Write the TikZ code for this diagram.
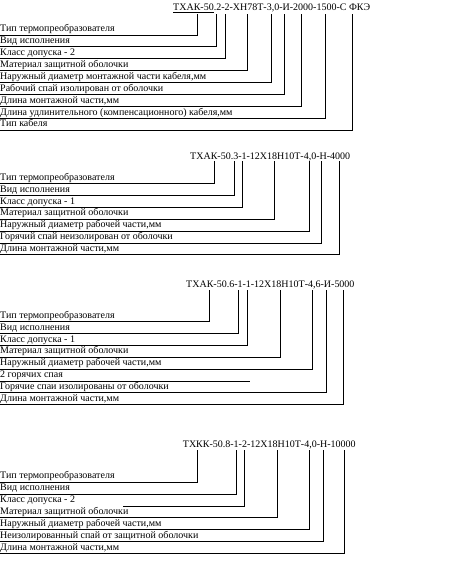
\documentclass[tikz,border=0pt]{standalone}
\usepackage{fontspec}
\setmainfont{Liberation Serif}
\usepackage{tikz}
\usetikzlibrary{positioning}

\begin{document}
\begin{tikzpicture}[
  x=1pt, y=-1pt,
  node distance=0.5pt,
  lbl/.style={anchor=north west, inner sep=0pt, text height=8pt,
              text depth=3pt, font=\fontsize{10}{12}\selectfont},
  nxt/.style={below=of #1.south west, anchor=north west},
  code/.style={anchor=base west, inner sep=0pt,
               font=\fontsize{10}{12}\selectfont},
  conn/.style={line width=0.8pt}
]
\useasboundingbox (0,0) rectangle (468,563);

% ---- first code
\node[code] (codeA) at (173,10.5) {\underline{ТХАК-50}.2-2-ХН78Т-3,0-И-2000-1500-С ФКЭ};
\coordinate (ta1) at (197,13.5);
\coordinate (ta2) at (216.5,13.5);
\coordinate (ta3) at (225,13.5);
\coordinate (ta4) at (247,13.5);
\coordinate (ta5) at (271,13.5);
\coordinate (ta6) at (284,13.5);
\coordinate (ta7) at (301,13.5);
\coordinate (ta8) at (325.5,13.5);
\coordinate (ta9) at (352.3,13.5);

\node[lbl] (a1) at (0,23.5) {Тип термопреобразователя};
\node[lbl, nxt=a1] (a2) {Вид исполнения};
\node[lbl, nxt=a2] (a3) {Класс допуска - 2};
\node[lbl, nxt=a3] (a4) {Материал защитной оболочки};
\node[lbl, nxt=a4] (a5) {Наружный диаметр монтажной части кабеля,мм};
\node[lbl, nxt=a5] (a6) {Рабочий спай изолирован от оболочки};
\node[lbl, nxt=a6] (a7) {Длина монтажной части,мм};
\node[lbl, nxt=a7] (a8) {Длина удлинительного (компенсационного) кабеля,мм};
\node[lbl, nxt=a8] (a9) {Тип кабеля};

\draw[conn] (a1.south west) -| (ta1);
\draw[conn] (a2.south west) -| (ta2);
\draw[conn] (a3.south west) -| (ta3);
\draw[conn] (a4.south west) -| (ta4);
\draw[conn] (a5.south west) -| (ta5);
\draw[conn] (a6.south west) -| (ta6);
\draw[conn] (a7.south west) -| (ta7);
\draw[conn] (a8.south west) -| (ta8);
\draw[conn] (a9.south west) -| (ta9);

% ---- second code
\node[code] (codeB) at (190,159.5) {ТХАК-50.3-1-12Х18Н10Т-4,0-Н-4000};
\coordinate (tb1) at (214,161);
\coordinate (tb2) at (234,161);
\coordinate (tb3) at (242.7,161);
\coordinate (tb4) at (274.3,161);
\coordinate (tb5) at (309.3,161);
\coordinate (tb6) at (321.7,161);
\coordinate (tb7) at (339.3,161);

\node[lbl] (b1) at (0,172) {Тип термопреобразователя};
\node[lbl, nxt=b1] (b2) {Вид исполнения};
\node[lbl, nxt=b2] (b3) {Класс допуска - 1};
\node[lbl, nxt=b3] (b4) {Материал защитной оболочки};
\node[lbl, nxt=b4] (b5) {Наружный диаметр рабочей части,мм};
\node[lbl, nxt=b5] (b6) {Горячий спай неизолирован от оболочки};
\node[lbl, nxt=b6] (b7) {Длина монтажной части,мм};

\draw[conn] (b1.south west) -| (tb1);
\draw[conn] (b2.south west) -| (tb2);
\draw[conn] (b3.south west) -| (tb3);
\draw[conn] (b4.south west) -| (tb4);
\draw[conn] (b5.south west) -| (tb5);
\draw[conn] (b6.south west) -| (tb6);
\draw[conn] (b7.south west) -| (tb7);

% ---- third code
\node[code] (codeC) at (186,287.5) {ТХАК-50.6-1-1-12Х18Н10Т-4,6-И-5000};
\coordinate (tc1) at (209.3,289.5);
\coordinate (tc2) at (238.3,289.5);
\coordinate (tc3) at (247.7,289.5);
\coordinate (tc4) at (280,289.5);
\coordinate (tc5) at (312.3,289.5);
\coordinate (tc7) at (326,289.5);
\coordinate (tc8) at (343.3,289.5);

\node[lbl] (c1) at (0,310) {Тип термопреобразователя};
\node[lbl, nxt=c1] (c2) {Вид исполнения};
\node[lbl, nxt=c2] (c3) {Класс допуска - 1};
\node[lbl, nxt=c3] (c4) {Материал защитной оболочки};
\node[lbl, nxt=c4] (c5) {Наружный диаметр рабочей части,мм};
\node[lbl, nxt=c5] (c6) {2 горячих спая};
\node[lbl, nxt=c6] (c7) {Горячие спаи изолированы от оболочки};
\node[lbl, nxt=c7] (c8) {Длина монтажной части,мм};

\draw[conn] (c1.south west) -| (tc1);
\draw[conn] (c2.south west) -| (tc2);
\draw[conn] (c3.south west) -| (tc3);
\draw[conn] (c4.south west) -| (tc4);
\draw[conn] (c5.south west) -| (tc5);
\draw[conn] (c6.south west) -- ++(250,0);
\draw[conn] (c7.south west) -| (tc7);
\draw[conn] (c8.south west) -| (tc8);

% ---- fourth code
\node[code] (codeD) at (182.7,447.5) {ТХКК-50.8-1-2-12Х18Н10Т-4,0-Н-10000};
\coordinate (td1) at (197.7,450);
\coordinate (td2) at (236,450);
\coordinate (td3) at (244,450);
\coordinate (td4) at (277.3,450);
\coordinate (td5) at (309,450);
\coordinate (td6) at (323.3,450);
\coordinate (td7) at (344,450);

\node[lbl] (d1) at (0,470.7) {Тип термопреобразователя};
\node[lbl, nxt=d1] (d2) {Вид исполнения};
\node[lbl, nxt=d2] (d3) {Класс допуска - 2};
\node[lbl, nxt=d3] (d4) {Материал защитной оболочки};
\node[lbl, nxt=d4] (d5) {Наружный диаметр рабочей части,мм};
\node[lbl, nxt=d5] (d6) {Неизолированный спай от защитной оболочки};
\node[lbl, nxt=d6] (d7) {Длина монтажной части,мм};

\draw[conn] (d1.south west) -| (td1);
\draw[conn] (d2.south west) -| (td2);
\draw[conn] ([xshift=123pt]d3.south west) -| (td3);
\draw[conn] (d4.south west) -| (td4);
\draw[conn] (d5.south west) -| (td5);
\draw[conn] (d6.south west) -| (td6);
\draw[conn] (d7.south west) -| (td7);
\end{tikzpicture}
\end{document}
